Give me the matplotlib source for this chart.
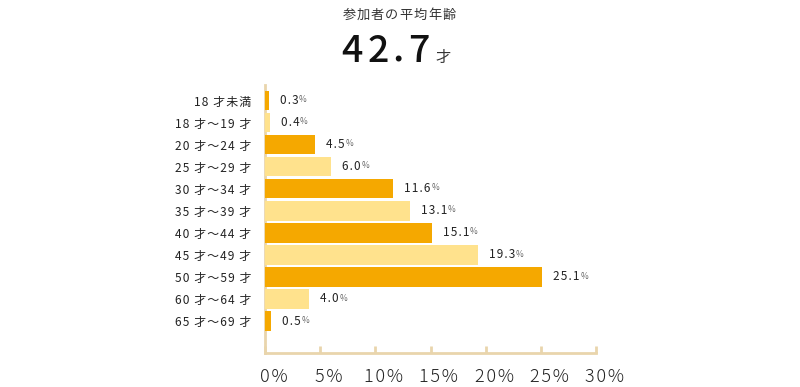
import matplotlib
matplotlib.use("Agg")
import matplotlib.pyplot as plt
from matplotlib.transforms import offset_copy, ScaledTranslation

plt.rcParams['font.family'] = ['Noto Sans CJK JP', 'DejaVu Sans']

categories = ["18 才未満", "18 才～19 才", "20 才～24 才", "25 才～29 才", "30 才～34 才",
              "35 才～39 才", "40 才～44 才", "45 才～49 才", "50 才～59 才", "60 才～64 才",
              "65 才～69 才"]
values = [0.3, 0.4, 4.5, 6.0, 11.6, 13.1, 15.1, 19.3, 25.1, 4.0, 0.5]
xticks = [0, 5, 10, 15, 20, 25, 30]
xtick_labels = ["0%", "5%", "10%", "15%", "20%", "25%", "30%"]
title_text = "参加者の平均年齢"
avg_age = "42.7"
age_unit = "才"

DARK = "#f5a800"
LIGHT = "#ffe28d"
AXC = "#e9d5ac"
TXT = "#222222"

HS = "\u200a"


def spread(s):
    return HS.join(s)


fig = plt.figure(figsize=(8, 3.87), dpi=100)
ax = fig.add_axes([0.3315, 0.0879, 0.4135, 0.692])

ypos = list(range(len(categories)))
colors = [DARK if i % 2 == 0 else LIGHT for i in ypos]
ax.barh(ypos, values, height=0.88, color=colors, zorder=4)

ax.set_xlim(0, 30)
ax.set_ylim(11.45, -0.7)
for s in ["top", "right"]:
    ax.spines[s].set_visible(False)
for s in ["left", "bottom"]:
    ax.spines[s].set_color(AXC)
    ax.spines[s].set_linewidth(2)
    ax.spines[s].set_zorder(3)

ax.set_yticks(ypos)
ax.set_yticklabels([spread(c) for c in categories], fontsize=8.6, color=TXT)
ax.tick_params(axis='y', length=0, pad=10)
ax.set_xticks(xticks)
ax.set_xticklabels([spread(t) for t in xtick_labels], fontsize=13, color=TXT, fontweight='light')
ax.tick_params(axis='x', direction='in', length=5, width=2, color=AXC, pad=11)
for lbl in ax.get_xticklabels():
    lbl.set_transform(lbl.get_transform() + ScaledTranslation(6/72, 0, fig.dpi_scale_trans))

# value labels
for y, v in zip(ypos, values):
    t = ax.text(v, y, spread(f"{v:.1f}"), transform=offset_copy(ax.transData, fig=fig, x=11, y=0, units='dots'),
                ha='left', va='center', fontsize=8.5, color=TXT)
    ax.annotate("%", xy=(1, 0.22), xycoords=t, xytext=(0.5, 0), textcoords='offset points',
                ha='left', va='bottom', fontsize=6, color="#666666")


def spaced(text, x0, y, step, **kw):
    for i, ch in enumerate(text):
        fig.text((x0 + i * step) / 800, 1 - y / 387, ch, ha='center', va='center', **kw)


spaced(title_text, 349, 15, 14.3, fontsize=9.5, color="#333333")
big_x = [352, 378, 398, 419]
for ch, x in zip(avg_age, big_x):
    fig.text(x / 800, 1 - 62 / 387, ch, ha='center', va='baseline', fontsize=27,
             fontweight='medium', color="#111111")
fig.text(443 / 800, 1 - 62 / 387, age_unit, ha='center', va='baseline', fontsize=11, color="#333333")

fig.savefig("out.png", dpi=100)
